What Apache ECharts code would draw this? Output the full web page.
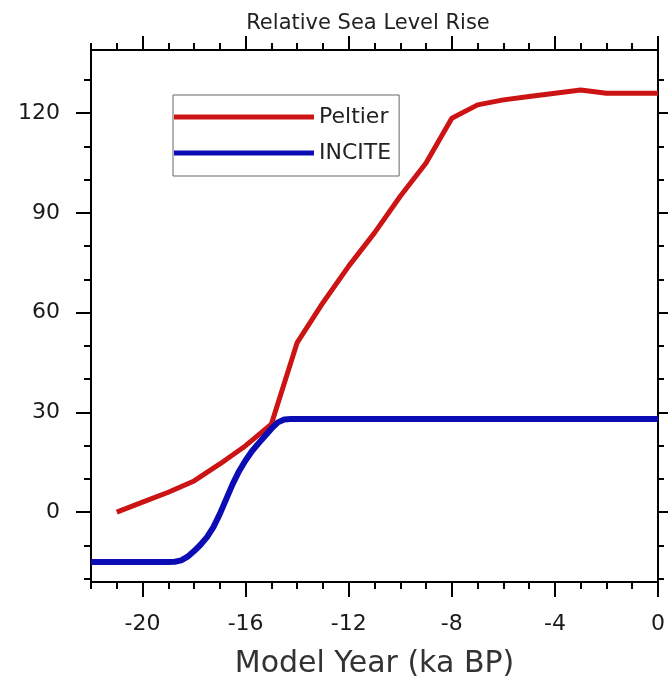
<!DOCTYPE html>
<html>
<head>
<meta charset="utf-8">
<script src="https://cdn.jsdelivr.net/npm/echarts@6/dist/echarts.min.js"></script>
<style>
  html, body { margin: 0; padding: 0; background: #fff; }
  #chart { width: 668px; height: 680px; }
</style>
</head>
<body>
<div id="chart"></div>
<script>
// values
var peltierYears = [-21, -20, -19, -18, -17, -16, -15, -14, -13, -12, -11, -10, -9, -8, -7, -6, -5, -4, -3, -2, -1, 0];
var peltierLevels = [0, 3, 6, 9.4, 14.5, 20, 26.5, 51, 63, 74, 84, 95, 105, 118.5, 122.5, 124, 125, 126, 127, 126, 126, 126];

var inciteYears = [-22, -19, -18.75, -18.5, -18.25, -18, -17.75, -17.5, -17.25, -17, -16.75, -16.5, -16.25, -16,
    -15.75, -15.5, -15.25, -15, -14.75, -14.5, -14.25, 0];
var inciteLevels = [-15, -15, -14.9, -14.5, -13.4, -11.7, -9.8, -7.5, -4.5, -0.5, 4, 8.5, 12.4, 15.6,
    18.4, 20.7, 22.9, 25.1, 27, 27.9, 28, 28];

var xMajorTicks = [-20, -16, -12, -8, -4, 0];
var xMinorTicks = [-22, -21, -19, -18, -17, -15, -14, -13, -11, -10, -9, -7, -6, -5, -3, -2, -1];
var yMajorTicks = [0, 30, 60, 90, 120];
var yMinorTicks = [-20, -10, 10, 20, 40, 50, 70, 80, 100, 110, 130];

var xMin = -22, xMax = 0, yMin = -21, yMax = 139;
var font = 'DejaVu Sans';

function pairs(xs, ys) {
    var out = [];
    for (var i = 0; i < xs.length; i++) {
        out.push([xs[i], ys[i]]);
    }
    return out;
}

// one axis per side and per tick size, all sharing the same range
function tickAxis(pos, min, max, ticks, len, withLine, withLabels) {
    return {
        type: 'value',
        position: pos,
        min: min,
        max: max,
        splitLine: { show: false },
        axisLine: { show: withLine, onZero: false, lineStyle: { color: '#000', width: 2 } },
        axisTick: { show: true, inside: false, length: len, customValues: ticks, lineStyle: { color: '#000', width: 2 } },
        axisLabel: withLabels ? {
            show: true,
            customValues: ticks,
            margin: 31,
            color: '#1a1a1a',
            fontFamily: font,
            fontSize: 22
        } : { show: false }
    };
}

var chart = echarts.init(document.getElementById('chart'), null, { renderer: 'canvas' });

var xBottom = tickAxis('bottom', xMin, xMax, xMajorTicks, 15, true, true);
xBottom.name = 'Model Year (ka BP)';
xBottom.nameLocation = 'middle';
xBottom.nameGap = 67;
xBottom.nameTextStyle = { color: '#333', fontFamily: font, fontSize: 30 };

var option = {
    animation: false,
    backgroundColor: '#fff',
    title: {
        text: 'Relative Sea Level Rise',
        left: 368,
        top: 13,
        padding: 0,
        textAlign: 'center',
        textStyle: { color: '#222', fontFamily: font, fontSize: 21, fontWeight: 'normal' }
    },
    legend: {
        orient: 'vertical',
        left: 173,
        top: 95,
        padding: [11, 8, 12, 1],
        itemGap: 14,
        itemWidth: 140,
        itemHeight: 5,
        borderColor: '#666',
        borderWidth: 1,
        textStyle: { color: '#222', fontFamily: font, fontSize: 22 },
        data: [
            { name: 'Peltier', icon: 'rect' },
            { name: 'INCITE', icon: 'rect' }
        ]
    },
    grid: {
        left: 91,
        right: 10,
        top: 50,
        bottom: 98,
        outerBoundsMode: 'none'
    },
    xAxis: [
        xBottom,
        tickAxis('bottom', xMin, xMax, xMinorTicks, 7, false, false),
        tickAxis('top', xMin, xMax, xMajorTicks, 14, true, false),
        tickAxis('top', xMin, xMax, xMinorTicks, 7, false, false)
    ],
    yAxis: [
        tickAxis('left', yMin, yMax, yMajorTicks, 15, true, true),
        tickAxis('left', yMin, yMax, yMinorTicks, 7, false, false),
        tickAxis('right', yMin, yMax, yMajorTicks, 12, true, false),
        tickAxis('right', yMin, yMax, yMinorTicks, 6, false, false)
    ],
    series: [
        {
            name: 'Peltier',
            type: 'line',
            xAxisIndex: 0,
            yAxisIndex: 0,
            symbol: 'none',
            color: '#cc1414',
            lineStyle: { color: '#cc1414', width: 5 },
            data: pairs(peltierYears, peltierLevels)
        },
        {
            name: 'INCITE',
            type: 'line',
            xAxisIndex: 0,
            yAxisIndex: 0,
            symbol: 'none',
            color: '#0c0cb4',
            lineStyle: { color: '#0c0cb4', width: 6, join: 'round' },
            data: pairs(inciteYears, inciteLevels)
        }
    ]
};
chart.setOption(option);
</script>
</body>
</html>
